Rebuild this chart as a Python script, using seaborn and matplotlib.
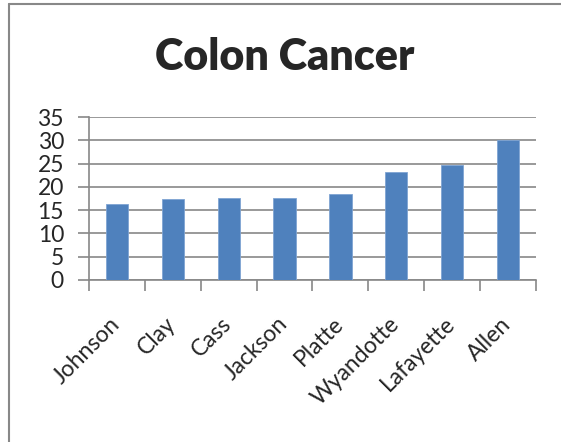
import pandas as pd
import numpy as np
import matplotlib
matplotlib.use("Agg")
import matplotlib.pyplot as plt
import matplotlib.transforms as mtransforms
import seaborn as sns
from matplotlib.lines import Line2D

# Data
counties = ["Johnson", "Clay", "Cass", "Jackson", "Platte", "Wyandotte", "Lafayette", "Allen"]
rates = [16.3, 17.5, 17.6, 17.6, 18.5, 23.1, 24.6, 30.1]
yticks = [0, 5, 10, 15, 20, 25, 30, 35]

df = pd.DataFrame({"County": counties, "Rate": rates})

sns.set_theme(style="white")
plt.rcParams["font.family"] = ["Lato", "DejaVu Sans"]

grid_color = "#888888"
fig = plt.figure(figsize=(5.61, 4.42), dpi=100)
ax = fig.add_axes([89 / 561, 1 - 280 / 442, (536 - 89) / 561, (280 - 117) / 442])

sns.barplot(data=df, x="County", y="Rate", color="#4F81BD", width=0.4,
            saturation=1, edgecolor="#7FA4D3", linewidth=0.6, ax=ax, zorder=3)

ax.set_xlim(-0.5, len(counties) - 0.5)
ax.set_ylim(0, 35)
ax.set_yticks(yticks)
ax.set_yticklabels([str(t) for t in yticks], fontsize=16.5)
ax.yaxis.grid(True, color=grid_color, linewidth=1.2)
ax.set_axisbelow(True)
ax.tick_params(axis="y", length=8, width=1.2, color=grid_color, pad=10, left=True)

ax.set_xticks(range(len(counties)))
ax.set_xticklabels(counties, fontsize=16.5, rotation=45, ha="right", rotation_mode="anchor")
ax.tick_params(axis="x", which="major", length=0, pad=24)
ax.set_xticks(np.arange(-0.5, len(counties)), minor=True)
ax.tick_params(axis="x", which="minor", length=8, width=1.2, color=grid_color, bottom=True)

# nudge the slanted labels a little to the left
shift = mtransforms.ScaledTranslation(-8 / 100, 0, fig.dpi_scale_trans)
for lbl in ax.get_xticklabels():
    lbl.set_transform(lbl.get_transform() + shift)

for side in ["top", "right"]:
    ax.spines[side].set_visible(False)
for side in ["left", "bottom"]:
    ax.spines[side].set_color(grid_color)
    ax.spines[side].set_linewidth(1.2)

ax.set_xlabel("")
ax.set_ylabel("")

fig.text(285 / 561, 1 - 57 / 442, "Colon Cancer", ha="center", va="center",
         fontsize=31, fontweight="heavy")

# chart frame (left and top edges visible)
fig.add_artist(Line2D([8.5 / 561, 8.5 / 561], [0, 1 - 4 / 442], color="#888888", linewidth=1.5,
                      transform=fig.transFigure))
fig.add_artist(Line2D([8.5 / 561, 1], [1 - 4 / 442, 1 - 4 / 442], color="#888888", linewidth=1.5,
                      transform=fig.transFigure))

fig.savefig("out.png", dpi=100)
